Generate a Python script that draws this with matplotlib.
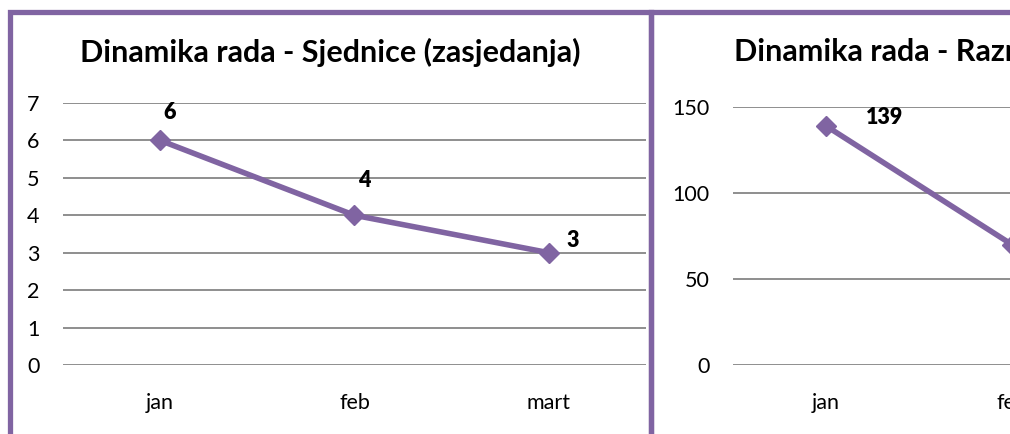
import matplotlib
matplotlib.use("Agg")
import matplotlib.pyplot as plt
from matplotlib.patches import Rectangle

plt.rcParams["font.family"] = ["Lato", "DejaVu Sans"]

# data
months = ["jan", "feb", "mart"]
sjednice = [6, 4, 3]
razmatrano = [139, 70, 55]

title_left = "Dinamika rada - Sjednice (zasjedanja)"
title_right = "Dinamika rada - Razmatrani materijali"

PURPLE = "#8064a2"
GRID = "#868686"
W, H = 1010, 434

fig = plt.figure(figsize=(W / 100, H / 100), dpi=100)
fig.patch.set_facecolor("white")


def fx(px):
    return px / W


def fy(py):
    return 1 - py / H


def draw_panel(rect, values, ymax, ystep, label_offsets):
    ax = fig.add_axes(rect)
    x = list(range(len(months)))
    ax.plot(x, values, color=PURPLE, lw=4, marker="D", ms=10,
            mfc=PURPLE, mec=PURPLE, zorder=3, clip_on=False)
    ax.set_xlim(-0.5, len(months) - 0.5)
    ax.set_ylim(0, ymax)
    ax.set_yticks(range(0, ymax + 1, ystep))
    ax.set_xticks(x)
    ax.set_xticklabels(months)
    ax.grid(axis="y", color=GRID, lw=1.3)
    ax.set_axisbelow(True)
    for s in ax.spines.values():
        s.set_visible(False)
    ax.tick_params(axis="y", length=0, pad=17, labelsize=15.5)
    ax.tick_params(axis="x", length=0, pad=20, labelsize=15.5)
    for xi, v, off in zip(x, values, label_offsets):
        ax.annotate(str(v), (xi, v), xytext=off, textcoords="offset points",
                    ha="center", va="center", fontsize=15.5,
                    fontweight="heavy")
    return ax


# left chart
draw_panel([fx(63), fy(365), fx(583), (365 - 103) / H], sjednice, 7, 1,
           [(7, 20), (7, 25), (17, 9)])
fig.text(fx(330), fy(52), title_left, ha="center", va="center",
         fontsize=22, fontweight="bold")

# right chart (runs off the right edge of the picture)
draw_panel([fx(733), fy(365), fx(558), (365 - 107) / H], razmatrano, 150, 50,
           [(42, 6), (40, 10), (40, 10)])
fig.text(fx(988), fy(52), title_right, ha="center", va="center",
         fontsize=22, fontweight="bold")

# chart borders
for x0, x1 in [(9.5, 651), (651, 1300)]:
    fig.add_artist(Rectangle((fx(x0), fy(470)), fx(x1 - x0), (470 - 11.5) / H,
                             transform=fig.transFigure, fill=False,
                             ec=PURPLE, lw=3.8, clip_on=False))

fig.savefig("out.png", dpi=100)
